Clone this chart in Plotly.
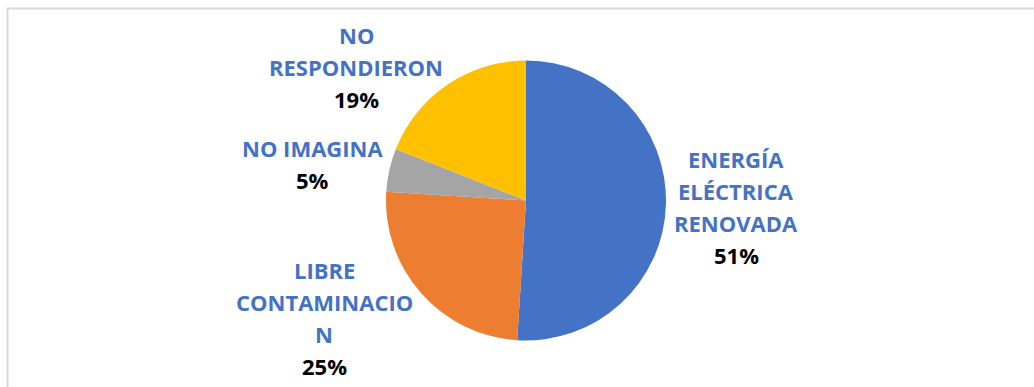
import plotly.graph_objects as go

# Survey answers and their shares (%)
categories = ["ENERGÍA ELÉCTRICA RENOVADA", "LIBRE CONTAMINACION", "NO IMAGINA", "NO RESPONDIERON"]
shares = [51, 25, 5, 19]
slice_colors = ["#4472C4", "#ED7D31", "#A5A5A5", "#FFC000"]

W, H = 1034, 387
FONT = "Open Sans"
LABEL_BLUE = "#4472C4"
LINE_GAP = 32  # px between stacked label lines
WRAP = 12      # max characters per label line

# centre of each outside label block (px): x, y of first line
label_anchor = [(736, 159), (324, 270), (312, 148), (356, 35)]


def wrap_label(text, width):
    """Word wrap; a word longer than the width is split over lines."""
    lines, cur = [], ""
    for word in text.split():
        if cur and len(cur) + 1 + len(word) <= width:
            cur += " " + word
            continue
        if cur:
            lines.append(cur)
        while len(word) > width:
            lines.append(word[:width])
            word = word[width:]
        cur = word
    if cur:
        lines.append(cur)
    return lines


fig = go.Figure()

cx, cy, r = 526, 200.5, 140
fig.add_trace(go.Pie(
    labels=categories,
    values=shares,
    marker=dict(colors=slice_colors, line=dict(width=0)),
    sort=False,
    direction="clockwise",
    rotation=0,
    textinfo="none",
    hoverinfo="label+percent",
    showlegend=False,
    domain=dict(x=[(cx - r) / W, (cx + r) / W], y=[(H - cy - r) / H, (H - cy + r) / H]),
))

annotations = []
for name, val, (ax, ay) in zip(categories, shares, label_anchor):
    rows = [(ln, LABEL_BLUE) for ln in wrap_label(name, WRAP)] + [(f"{val}%", "#000000")]
    for i, (txt, col) in enumerate(rows):
        annotations.append(dict(
            x=ax / W, y=1 - (ay + i * LINE_GAP) / H,
            xref="paper", yref="paper",
            xanchor="center", yanchor="middle",
            text=f"<b>{txt}</b>", showarrow=False,
            font=dict(family=FONT, size=22, color=col),
        ))

fig.update_layout(
    width=W, height=H,
    margin=dict(l=0, r=0, t=0, b=0),
    paper_bgcolor="white",
    plot_bgcolor="white",
    annotations=annotations,
    shapes=[dict(
        type="rect", xref="paper", yref="paper",
        x0=7.5 / W, x1=1.05, y0=-0.05, y1=1 - 8.5 / H,
        line=dict(color="#D9D9D9", width=2),
        fillcolor="rgba(0,0,0,0)", layer="below",
    )],
)

fig.write_html("out.html")
